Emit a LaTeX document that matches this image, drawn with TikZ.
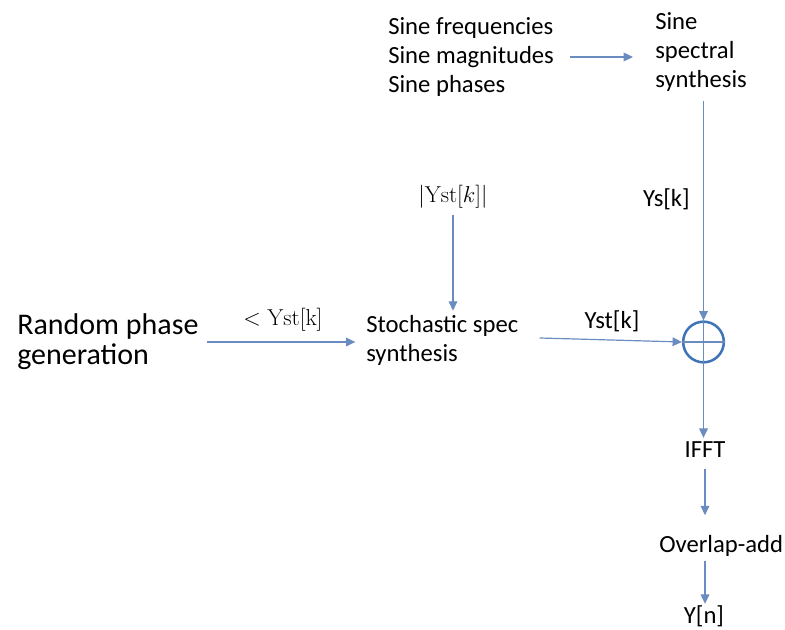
\documentclass[tikz,border=0pt]{standalone}
\usepackage[no-math]{fontspec}
\setmainfont{Carlito}
\usetikzlibrary{arrows.meta}
\definecolor{flow}{HTML}{6A8CC0}
\definecolor{ring}{HTML}{3F74B6}
\begin{document}
\begin{tikzpicture}[x=0.75pt,y=-0.75pt,
  txt/.style={inner sep=0pt, font=\fontsize{18.5}{21.75}\selectfont, align=left},
  big/.style={inner sep=0pt, font=\fontsize{22.5}{22.5}\selectfont, align=left},
  flowline/.style={draw=flow, line width=0.9pt, -{Triangle[length=7pt,width=6.5pt]}},
  plain/.style={draw=flow, line width=0.9pt},
]
\useasboundingbox (0,0) rectangle (785,630);

% text blocks
\node[txt,anchor=west] (sines) at (388,57) {Sine frequencies\\Sine magnitudes\\Sine phases};
\node[txt,anchor=west] (sss) at (655,52) {Sine\\spectral\\synthesis};
\node[big,anchor=west] (rnd) at (17,342) {Random phase\\generation};
\node[txt,anchor=west] (sto) at (366,340) {Stochastic spec\\synthesis};
\node[txt] (mag) at (453,197) {$|\mathrm{Yst}[k]|$};
\node[txt,anchor=east] (ys) at (690,199) {Ys[k]};
\node[txt] (phase) at (283,320) {${<}\;\mathrm{Yst}[\mathrm{k}]$};
\node[txt] (yst) at (612,321) {Yst[k]};
\node[txt] (ifft) at (705,450) {IFFT};
\node[txt,anchor=west] (ola) at (659,546) {Overlap-add};
\node[txt] (yn) at (704,616) {Y[n]};

% summing junction
\node[circle,draw=ring,line width=1.9pt,minimum size=30.5pt,inner sep=0pt] (sum) at (703.5,342) {};
\draw[plain] (sum.north) -- (sum.south);
\draw[plain] (sum.west) -- (sum.east);

% connectors
\draw[flowline] ([xshift=12pt]sines.east) -- ([xshift=-16.5pt]sss.west |- sines.east);
\draw[flowline, shorten <=7pt] (sss.south -| sum.north) -- (sum.north);
\draw[flowline] ([xshift=6pt]rnd.east) -- ([xshift=-8pt]sto.west |- rnd.east);
\draw[flowline, shorten <=5pt, shorten >=3pt] (mag.south) -- (mag.south |- sto.north);
\draw[flowline] ([shift={(21,-2)}]sto.east) -- (sum.west);
\draw[flowline, shorten >=3pt] (sum.south) -- (sum.south |- ifft.north);
\draw[flowline, shorten <=8pt, shorten >=15pt] (ifft.south) -- (ifft.south |- ola.north);
\draw[flowline, shorten <=3pt, shorten >=1pt] (ola.south -| ifft.south) -- (ifft.south |- yn.north);
\end{tikzpicture}
\end{document}
